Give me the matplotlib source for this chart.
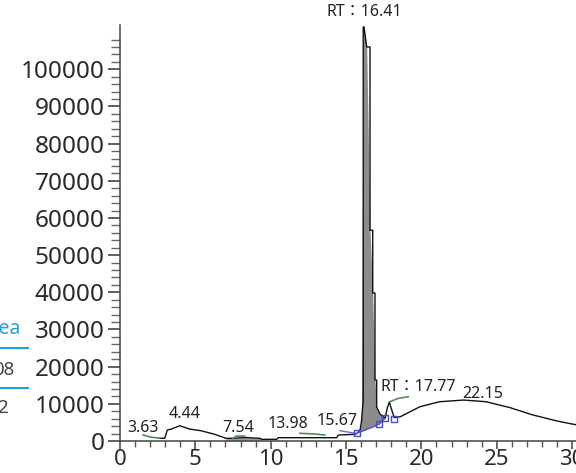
import matplotlib
matplotlib.use("Agg")
import matplotlib.pyplot as plt
from matplotlib.ticker import MultipleLocator, FixedLocator
from matplotlib.lines import Line2D
import numpy as np

# ---- data (retention time in min, signal) ----
trace_x = [2.63, 2.97, 3.14, 3.40, 3.96, 4.63, 5.37, 6.28, 7.03, 7.50, 8.30, 9.30,
           9.40, 10.40, 10.50, 14.38, 14.49, 15.59, 15.75, 15.93, 16.02, 16.14,
           16.14, 16.19, 16.37, 16.59, 16.59, 16.77, 16.77, 16.92, 16.92, 17.03,
           17.03, 17.25, 17.47, 17.60, 17.73, 17.87, 18.05, 18.20, 18.60, 19.90,
           21.20, 22.80, 24.30, 25.90, 27.40, 29.00, 30.00, 30.40]
trace_y = [730, 730, 2960, 3200, 4100, 3200, 2770, 1800, 730, 730, 950, 700,
           450, 450, 890, 890, 1610, 1800, 2070, 2960, 5100, 11000,
           111400, 111400, 106000, 106000, 56700, 56700, 39800, 39800, 16400, 16400,
           9140, 7260, 6530, 6180, 8800, 10500, 8100, 6300, 6530, 9220,
           10560, 11020, 10560, 8950, 7000, 5380, 4570, 4300]

base_x = [15.70, 16.26, 16.81, 17.21, 17.47, 17.58]
base_y = [2070, 2960, 3850, 4570, 5650, 6090]

blue_seg_x = [14.60, 15.00, 15.59, 15.75]
blue_seg_y = [2770, 2500, 2070, 2070]

square_x = [15.74, 17.19, 17.60, 18.20]
square_y = [2070, 4570, 6180, 6000]

green_segments = [
    ([1.53, 2.10, 2.63], [1600, 1000, 750]),
    ([7.50, 7.72, 8.27], [730, 1340, 1340]),
    ([11.94, 12.94, 13.60], [2070, 1880, 1610]),
    ([17.92, 18.47, 19.13], [10570, 11480, 11900]),
]

peak_labels = ["3.63", "4.44", "7.54", "13.98", "15.67", "RT\uff1a17.77", "22.15", "RT\uff1a16.41"]
label_x = [1.53, 4.31, 7.83, 11.15, 14.40, 19.77, 24.09, 16.19]
label_y = [3500, 7260, 3500, 4570, 5400, 14500, 12600, 115300]

x_major = [0, 5, 10, 15, 20, 25, 30]
y_major = list(range(0, 100001, 10000))
y_minor = list(range(0, 108001, 2000))

# ---- figure ----
W, H = 576, 473
fig = plt.figure(figsize=(W / 100, H / 100), dpi=100)
fam = ["Noto Sans", "Noto Sans CJK TC", "DejaVu Sans"]

x_lo, x_hi = 0, 31
y_lo, y_hi = 0, 112000
ax_left = 120 / W
ax_bottom = (H - 441) / H
ax_w = (x_hi - x_lo) * 15.07 / W
ax_h = (y_hi / 10000) * 37.17 / H
ax = fig.add_axes([ax_left, ax_bottom, ax_w, ax_h])
ax.set_xlim(x_lo, x_hi)
ax.set_ylim(y_lo, y_hi)

for s in ["top", "right"]:
    ax.spines[s].set_visible(False)
for s in ["left", "bottom"]:
    ax.spines[s].set_color("#444444")
    ax.spines[s].set_linewidth(1.1)

ax.xaxis.set_major_locator(FixedLocator(x_major))
ax.xaxis.set_minor_locator(MultipleLocator(1))
ax.yaxis.set_major_locator(FixedLocator(y_major))
ax.yaxis.set_minor_locator(FixedLocator(y_minor))
ax.set_xticklabels([str(v) for v in x_major])
ax.set_yticklabels([str(v) for v in y_major])

ax.tick_params(axis="x", which="major", length=5.5, width=1.1, color="#444444",
               labelsize=16, labelcolor="#2a2a2a", pad=0)
ax.tick_params(axis="x", which="minor", length=4, width=1.0, color="#555555")
ax.tick_params(axis="y", which="major", length=8.5, width=1.1, color="#333333",
               labelsize=17.5, labelcolor="#2a2a2a", pad=2.5)
ax.tick_params(axis="y", which="minor", length=6.5, width=1.0, color="#666666")
for lab in ax.get_xticklabels() + ax.get_yticklabels():
    lab.set_family(fam)

# peak fill under the main peak (between trace and the fitted baseline)
tx = np.array(trace_x)
ty = np.array(trace_y, dtype=float)
bx = np.array(base_x)
by = np.array(base_y, dtype=float)
mask = (tx >= bx[0]) & (tx <= bx[-1])
fx = np.concatenate([[bx[0]], tx[mask], [bx[-1]]])
fy_top = np.interp(fx, tx, ty)
fy_bot = np.interp(fx, bx, by)
ax.fill_between(fx, fy_bot, fy_top, color="#8c8c8c", linewidth=0, zorder=1)

# small fill near 7.54
m2 = (tx >= 7.03) & (tx <= 9.30)
ax.fill_between(tx[m2], 0, ty[m2], color="#9a9a9a", linewidth=0, zorder=1)

ax.plot(trace_x, trace_y, color="#111111", linewidth=1.0, zorder=3)
ax.plot(base_x, base_y, color="#5555cc", linewidth=1.0, zorder=4)
ax.plot(blue_seg_x, blue_seg_y, color="#6a6ad0", linewidth=1.0, zorder=4)
for gx, gy in green_segments:
    ax.plot(gx, gy, color="#4f8f55", linewidth=1.2, zorder=4)
ax.plot(square_x, square_y, linestyle="none", marker="s", markersize=4.8,
        markerfacecolor="none", markeredgecolor="#4848c8", markeredgewidth=1.0, zorder=5)

for t, lx, ly in zip(peak_labels, label_x, label_y):
    ax.text(lx, ly, t, ha="center", va="center", fontsize=11.5, color="#222222",
            family=fam, clip_on=False, zorder=6)

# fragment of neighbouring table at the far left
fig.text(20 / W, (H - 329) / H, "Area", ha="right", va="center", fontsize=14,
         color="#22a0e0", family=fam)
fig.text(14 / W, (H - 370) / H, "08", ha="right", va="center", fontsize=13.5,
         color="#444444", family=fam)
fig.text(8 / W, (H - 408) / H, "2", ha="right", va="center", fontsize=13.5,
         color="#444444", family=fam)
for yy in [347.7, 388.3]:
    fig.add_artist(Line2D([0, 27.5 / W], [(H - yy) / H] * 2, color="#22a0e0",
                          linewidth=1.5, transform=fig.transFigure))

fig.savefig("out.png", dpi=100)
